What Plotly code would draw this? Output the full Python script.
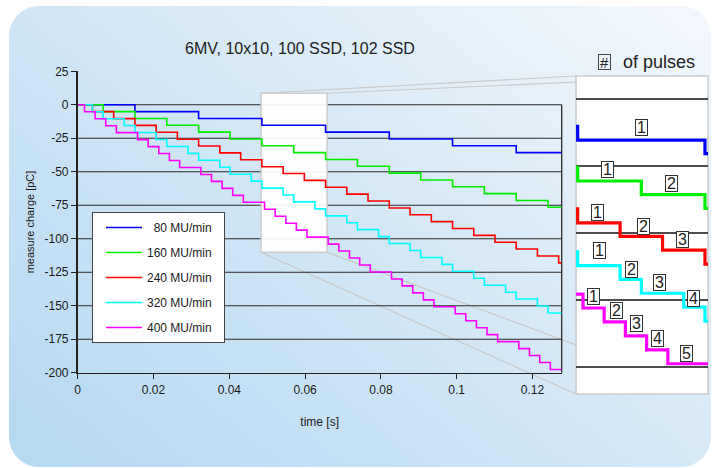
import base64
import plotly.graph_objects as go

# ---------------- data ----------------
TITLE = "6MV, 10x10, 100 SSD, 102 SSD"
series_names = ["\u200780 MU/min", "160 MU/min", "240 MU/min", "320 MU/min", "400 MU/min"]
series_colors = ["#0000ff", "#00ee00", "#ff0000", "#00ffff", "#ff00ff"]

# pulse times [s] and cumulative charge after each pulse [pC]
blue_t = [0.0151, 0.0319, 0.0486, 0.0654, 0.0822, 0.0989, 0.1157]
blue_q = [-5.1, -10.2, -15.3, -20.4, -25.5, -30.6, -35.7]

green_t = [0.0067, 0.0151, 0.0235, 0.0319, 0.0402, 0.0486, 0.0570, 0.0654,
           0.0738, 0.0822, 0.0905, 0.0989, 0.1073, 0.1157, 0.1241]
green_q = [-5.1, -10.2, -15.3, -20.4, -25.5, -30.6, -35.7, -40.8,
           -45.9, -51.0, -56.1, -61.2, -66.3, -71.4, -76.5]

red_t = [0.0039, 0.0095, 0.0151, 0.0207, 0.0263, 0.0319, 0.0375, 0.0430,
         0.0486, 0.0542, 0.0598, 0.0654, 0.0710, 0.0766, 0.0822, 0.0877,
         0.0933, 0.0989, 0.1045, 0.1101, 0.1157, 0.1213, 0.1269]
red_q = [-5.1, -10.3, -15.4, -20.5, -25.7, -30.8, -35.9, -41.0,
         -46.2, -51.3, -56.4, -61.6, -66.7, -71.8, -77.0, -82.1,
         -87.2, -92.3, -97.5, -102.6, -107.7, -112.9, -118.0]

cyan_t = [0.0039, 0.0067, 0.0123, 0.0151, 0.0207, 0.0235, 0.0291, 0.0319,
          0.0375, 0.0402, 0.0458, 0.0486, 0.0542, 0.0570, 0.0626, 0.0654,
          0.0710, 0.0738, 0.0794, 0.0822, 0.0877, 0.0905, 0.0961, 0.0989,
          0.1045, 0.1073, 0.1129, 0.1157, 0.1213, 0.1241]
cyan_q = [-5.2, -10.4, -15.5, -20.7, -25.9, -31.1, -36.3, -41.4,
          -46.6, -51.8, -57.0, -62.2, -67.3, -72.5, -77.7, -82.9,
          -88.1, -93.2, -98.4, -103.6, -108.8, -114.0, -119.1, -124.3,
          -129.5, -134.7, -139.9, -145.0, -150.2, -155.4]

magenta_t = [0.0018, 0.0046, 0.0074, 0.0102, 0.0158, 0.0186, 0.0214, 0.0242,
             0.0269, 0.0325, 0.0353, 0.0381, 0.0409, 0.0437, 0.0493, 0.0521,
             0.0549, 0.0577, 0.0605, 0.0661, 0.0689, 0.0717, 0.0744, 0.0772,
             0.0828, 0.0856, 0.0884, 0.0912, 0.0940, 0.0996, 0.1024, 0.1052,
             0.1080, 0.1108, 0.1164, 0.1192, 0.1219, 0.1247]
magenta_q = [-5.2, -10.4, -15.6, -20.8, -26.0, -31.2, -36.4, -41.6,
             -46.8, -52.0, -57.2, -62.4, -67.6, -72.8, -78.0, -83.2,
             -88.4, -93.6, -98.8, -104.0, -109.2, -114.4, -119.6, -124.8,
             -130.0, -135.2, -140.4, -145.6, -150.8, -156.0, -161.2, -166.4,
             -171.6, -176.8, -182.0, -187.2, -192.4, -197.6]

series_t = [blue_t, green_t, red_t, cyan_t, magenta_t]
series_q = [blue_q, green_q, red_q, cyan_q, magenta_q]

x_tickvals = [0, 0.02, 0.04, 0.06, 0.08, 0.1, 0.12]
x_ticktext = ["0", "0.02", "0.04", "0.06", "0.08", "0.1", "0.12"]
y_tickvals = [25, 0, -25, -50, -75, -100, -125, -150, -175, -200]
y_ticktext = ["25", "0", "-25", "-50", "-75", "-100", "-125", "-150", "-175", "-200"]
main_grid = [0, -25, -50, -75, -100, -125, -150, -175]
inset_grid = [0, -25, -50, -75, -100]

# inset pulse-number labels (inset data coordinates)
lab_text = ["1", "1", "2", "1", "2", "3", "1", "2", "3", "4", "1", "2", "3", "4", "5"]
lab_x = [0.05705, 0.05256, 0.06101, 0.05119, 0.05735, 0.06246, 0.05145, 0.05564,
         0.05937, 0.06395, 0.05066, 0.05366, 0.05639, 0.05911, 0.06290]
lab_y = [-10.6, -26.2, -31.5, -42.4, -47.4, -52.6, -56.6, -63.8,
         -68.5, -74.4, -73.8, -79.1, -83.7, -89.3, -95.1]

X_RANGE = [0, 0.1277]
Y_RANGE = [-200, 25]
ZOOM_X = [0.04838, 0.0658]
ZOOM_Y = [-110.1, 8.6]

# ---------------- layout geometry ----------------
W, H = 716, 468
XD = [77.7 / W, 561.7 / W]
YD = [1 - 372.7 / H, 1 - 71.3 / H]
XD2 = [576 / W, 708 / W]
YD2 = [1 - 394 / H, 1 - 76 / H]
FONT = "Arial, 'Liberation Sans', Helvetica, sans-serif"


def px(x):
    return XD[0] + (x - X_RANGE[0]) / (X_RANGE[1] - X_RANGE[0]) * (XD[1] - XD[0])


def py(y):
    return YD[0] + (y - Y_RANGE[0]) / (Y_RANGE[1] - Y_RANGE[0]) * (YD[1] - YD[0])


fig = go.Figure()

for name, color, t, q in zip(series_names, series_colors, series_t, series_q):
    xs = [X_RANGE[0]] + t + [X_RANGE[1]]
    ys = [0] + q + [q[-1]]
    fig.add_trace(go.Scatter(x=xs, y=ys, mode="lines", name=name + "\u2007", legendgroup=name,
                             line=dict(color=color, width=1.6, shape="hv"),
                             xaxis="x", yaxis="y", hoverinfo="skip"))
for name, color, t, q in zip(series_names, series_colors, series_t, series_q):
    xs = [X_RANGE[0]] + t + [X_RANGE[1]]
    ys = [0] + q + [q[-1]]
    fig.add_trace(go.Scatter(x=xs, y=ys, mode="lines", showlegend=False,
                             line=dict(color=color, width=3.2, shape="hv"),
                             xaxis="x2", yaxis="y2", hoverinfo="skip"))

shapes = []
# connector lines (behind everything)
corners_main = [(ZOOM_X[0], ZOOM_Y[1]), (ZOOM_X[1], ZOOM_Y[1]),
                (ZOOM_X[0], ZOOM_Y[0]), (ZOOM_X[1], ZOOM_Y[0])]
corners_inset = [(XD2[0], YD2[1]), (XD2[1], YD2[1]), (XD2[0], YD2[0]), (XD2[1], YD2[0])]
for (mx, my), (ix, iy) in zip(corners_main, corners_inset):
    shapes.append(dict(type="line", xref="paper", yref="paper", x0=px(mx), y0=py(my),
                       x1=ix, y1=iy, line=dict(color="#c9c9c9", width=1.2), layer="below"))
# zoom box in the main plot
shapes.append(dict(type="rect", xref="x", yref="y", x0=ZOOM_X[0], x1=ZOOM_X[1],
                   y0=ZOOM_Y[0], y1=ZOOM_Y[1], fillcolor="rgba(255,255,255,0.92)",
                   line=dict(color="#cccccc", width=1.5), layer="below"))
for g in main_grid:
    shapes.append(dict(type="line", xref="x domain", yref="y", x0=0, x1=1, y0=g, y1=g,
                       line=dict(color="#2a2a2a", width=1.1), layer="below"))
# right frame
shapes.append(dict(type="line", xref="x domain", yref="y", x0=1, x1=1, y0=0, y1=Y_RANGE[0],
                   line=dict(color="#2a2a2a", width=1.3), layer="below"))
# inset box and grid
shapes.append(dict(type="rect", xref="x2 domain", yref="y2 domain", x0=0, x1=1, y0=0, y1=1,
                   fillcolor="white", line=dict(color="#cccccc", width=1.5), layer="below"))
for g in inset_grid:
    shapes.append(dict(type="line", xref="x2 domain", yref="y2", x0=0, x1=1, y0=g, y1=g,
                       line=dict(color="#111111", width=1.4), layer="below"))

annotations = []
for txt, x, y in zip(lab_text, lab_x, lab_y):
    annotations.append(dict(text=txt, x=x, y=y, xref="x2", yref="y2", showarrow=False,
                            xanchor="center", yanchor="middle", width=11, height=15,
                            font=dict(family=FONT, size=16, color="#222"),
                            bgcolor="white", bordercolor="#333", borderwidth=1, borderpad=0))
annotations.append(dict(text="#", x=604 / W, y=1 - 62 / H, xref="paper", yref="paper",
                        xanchor="center", yanchor="middle", width=11, height=14,
                        showarrow=False, font=dict(family=FONT, size=15, color="#222"),
                        bordercolor="#444", borderwidth=1, borderpad=0))
annotations.append(dict(text="of pulses", x=659 / W, y=1 - 62 / H, xref="paper", yref="paper",
                        xanchor="center", yanchor="middle",
                        showarrow=False, font=dict(family=FONT, size=18, color="#222")))

# background: rounded rectangle with diagonal gradient
svg = ('<svg xmlns="http://www.w3.org/2000/svg" width="716" height="468" viewBox="0 0 716 468">'
       '<defs><linearGradient id="g" x1="0" y1="0.9" x2="1" y2="0.1">'
       '<stop offset="0" stop-color="#b6daf2"/><stop offset="0.5" stop-color="#d3e7f6"/>'
       '<stop offset="1" stop-color="#f1f7fc"/></linearGradient></defs>'
       '<rect x="9" y="6" width="702" height="461" rx="30" ry="30" fill="url(#g)"/></svg>')
bg_src = "data:image/svg+xml;base64," + base64.b64encode(svg.encode()).decode()

axis_font = dict(family=FONT, size=12, color="#1a1a1a")
fig.update_layout(
    width=W, height=H, margin=dict(l=0, r=0, t=0, b=0, autoexpand=False),
    paper_bgcolor="white", plot_bgcolor="rgba(0,0,0,0)",
    font=dict(family=FONT, size=12, color="#1a1a1a"),
    title=dict(text=TITLE, x=300 / W, y=1 - 48 / H, xanchor="center", yanchor="middle",
               font=dict(family=FONT, size=16, color="#222")),
    xaxis=dict(domain=XD, range=X_RANGE, tickvals=x_tickvals, ticktext=x_ticktext,
               showgrid=False, zeroline=False, showline=True, linecolor="#222", linewidth=1.5,
               ticks="outside", ticklen=5, tickcolor="#222", tickfont=axis_font,
               title=dict(text="time [s]", font=dict(family=FONT, size=12, color="#1a1a1a"),
                          standoff=22),
               anchor="y", automargin=False),
    yaxis=dict(domain=YD, range=Y_RANGE, tickvals=y_tickvals, ticktext=y_ticktext,
               showgrid=False, zeroline=False, showline=True, linecolor="#222", linewidth=1.8,
               ticks="outside", ticklen=5, tickcolor="#222", tickfont=axis_font,
               title=dict(text="measure charge [pC]",
                          font=dict(family=FONT, size=11, color="#1a1a1a"), standoff=8),
               anchor="x", automargin=False),
    xaxis2=dict(domain=XD2, range=ZOOM_X, visible=False, anchor="y2"),
    yaxis2=dict(domain=YD2, range=ZOOM_Y, visible=False, anchor="x2"),
    legend=dict(x=92 / W, y=1 - 212 / H, xanchor="left", yanchor="top",
                bgcolor="white", bordercolor="#444", borderwidth=1,
                font=dict(family=FONT, size=12, color="#1a1a1a"),
                tracegroupgap=6, itemwidth=36, indentation=8),
    shapes=shapes, annotations=annotations,
    images=[dict(source=bg_src, xref="paper", yref="paper", x=0, y=1, sizex=1, sizey=1,
                 xanchor="left", yanchor="top", sizing="stretch", layer="below")],
    showlegend=True,
)

fig.write_html("out.html", config={"displayModeBar": False, "staticPlot": True},
               post_script="document.body.style.margin='0';document.body.style.overflow='hidden';")
